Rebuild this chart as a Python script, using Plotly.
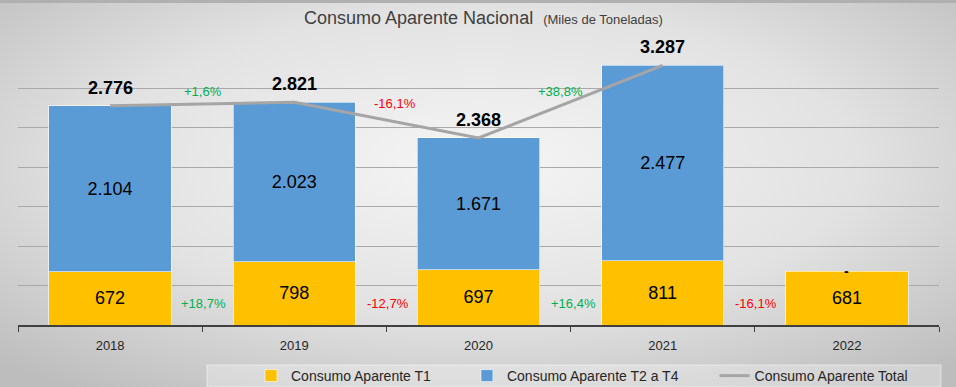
import base64
import plotly.graph_objects as go

# ---------------- data ----------------
years = ["2018", "2019", "2020", "2021", "2022"]
t1 = [672, 798, 697, 811, 681]
t2_t4 = [2104, 2023, 1671, 2477, None]
total = [2776, 2821, 2368, 3287, None]
total_growth = ["+1,6%", "-16,1%", "+38,8%"]
t1_growth = ["+18,7%", "-12,7%", "+16,4%", "-16,1%"]
missing_label = "-"

# ---------------- style / layout ----------------
W, H = 956, 387
ML, MR, MT, MB = 18, 17, 40, 62
PW, PH = W - ML - MR, H - MT - MB
YMAX = 3608
FONT = "Liberation Sans, Arial, sans-serif"
YELLOW = "#FFC000"
BLUE = "#5B9BD5"
GRAY = "#A5A5A5"
GREEN = "#00B050"
RED = "#FF0000"
NB = "\u00a0" * 8  # extra spacing between legend entries


def py(pix):
    """pixel row (from top of figure) -> paper y"""
    return (H - MB - pix) / PH


def px(pix):
    return (pix - ML) / PW


svg = f"""<svg xmlns='http://www.w3.org/2000/svg' width='{W}' height='{H}' viewBox='0 0 {W} {H}' preserveAspectRatio='none'>
<defs><radialGradient id='g' cx='50%' cy='42%' r='72%'>
<stop offset='0%' stop-color='#f5f5f5'/><stop offset='55%' stop-color='#e2e2e2'/><stop offset='100%' stop-color='#bdbdbd'/>
</radialGradient></defs>
<rect width='{W}' height='{H}' fill='url(#g)'/>
<rect width='{W}' height='3' fill='#b0b0b0'/>
</svg>"""
bg_src = "data:image/svg+xml;base64," + base64.b64encode(svg.encode()).decode()

fig = go.Figure()

fig.add_trace(go.Bar(
    x=years, y=t1, name="Consumo Aparente T1" + NB,
    marker=dict(color=YELLOW, line=dict(color="rgba(255,255,255,0.6)", width=1)),
    text=t1, texttemplate="%{y:,.0f}", textposition="inside", insidetextanchor="middle",
    textfont=dict(size=18, color="#000000", family=FONT),
))
fig.add_trace(go.Bar(
    x=years, y=t2_t4, name="Consumo Aparente T2 a T4" + NB,
    marker=dict(color=BLUE, line=dict(color="rgba(255,255,255,0.6)", width=1)),
    text=t2_t4, texttemplate="%{y:,.0f}", textposition="inside", insidetextanchor="middle",
    textfont=dict(size=18, color="#000000", family=FONT),
))
fig.add_trace(go.Scatter(
    x=years, y=total, name="Consumo Aparente Total", mode="lines",
    line=dict(color=GRAY, width=3),
))

annotations = []
# total labels above the line points (x given as category index)
for i, v in enumerate(total):
    if v is None:
        continue
    annotations.append(dict(
        x=i, y=v, xref="x", yref="y", text=f"<b>{v:,.0f}</b>".replace(",", "."),
        showarrow=False, yanchor="middle", yshift=18,
        font=dict(size=18, color="#000000", family=FONT)))
up_y = [2962, 2800, 2962]
up_dx = [1, 9, -10]
for i, txt in enumerate(total_growth):
    annotations.append(dict(
        x=i + 0.5, y=up_y[i], xref="x", yref="y", text=txt, showarrow=False,
        xshift=up_dx[i], font=dict(size=13, color=GREEN if txt.startswith("+") else RED, family=FONT)))
low_dx = [1, 2, 3, 1]
for i, txt in enumerate(t1_growth):
    annotations.append(dict(
        x=i + 0.5, y=266, xref="x", yref="y", text=txt, showarrow=False,
        xshift=low_dx[i], font=dict(size=13, color=GREEN if txt.startswith("+") else RED, family=FONT)))
annotations.append(dict(
    x=len(years) - 1, y=t1[-1], xref="x", yref="y", text=f"<b>{missing_label}</b>", showarrow=False,
    yanchor="bottom", yshift=-10, font=dict(size=14, color="#000000", family=FONT)))
annotations.append(dict(
    x=px(483), y=py(18), xref="paper", yref="paper", xanchor="center", yanchor="middle",
    text="Consumo Aparente Nacional  <span style='font-size:13px'>(Miles de Toneladas)</span>",
    showarrow=False, font=dict(size=18, color="#404040", family=FONT)))

fig.update_layout(
    width=W, height=H,
    margin=dict(l=ML, r=MR, t=MT, b=MB, pad=0, autoexpand=False),
    barmode="stack", bargap=0.336,
    separators=",.",
    paper_bgcolor="#d9d9d9", plot_bgcolor="rgba(0,0,0,0)",
    font=dict(family=FONT, color="#262626"),
    showlegend=True,
    legend=dict(orientation="h", x=px(251), xanchor="left", y=py(376), yanchor="middle",
                bgcolor="rgba(0,0,0,0)", font=dict(size=14, color="#262626", family=FONT),
                traceorder="normal", itemwidth=30),
    annotations=annotations,
    images=[dict(source=bg_src, xref="paper", yref="paper", x=-ML / PW, y=1 + MT / PH,
                 sizex=W / PW, sizey=H / PH, xanchor="left", yanchor="top",
                 sizing="stretch", layer="below")],
    shapes=[dict(type="rect", xref="paper", yref="paper",
                 x0=px(207), x1=px(941), y0=py(365), y1=py(387),
                 fillcolor="rgba(255,255,255,0.3)", line=dict(color="rgba(255,255,255,0.5)", width=1),
                 layer="below")],
    xaxis=dict(type="category", range=[-0.5, len(years) - 0.5],
               showline=True, linecolor="#404040", linewidth=1.5,
               ticks="outside", tickson="boundaries", ticklen=5, tickcolor="#404040",
               ticklabelstandoff=8,
               tickfont=dict(size=13, color="#262626", family=FONT), showgrid=False,
               fixedrange=True),
    yaxis=dict(range=[0, YMAX], tickvals=[500, 1000, 1500, 2000, 2500, 3000],
               showticklabels=False, showgrid=True, gridcolor="#a9a9a9", gridwidth=1,
               zeroline=False, showline=False, fixedrange=True),
)

fig.write_html("out.html", config={"displayModeBar": False},
               post_script="document.body.style.margin='0';")
